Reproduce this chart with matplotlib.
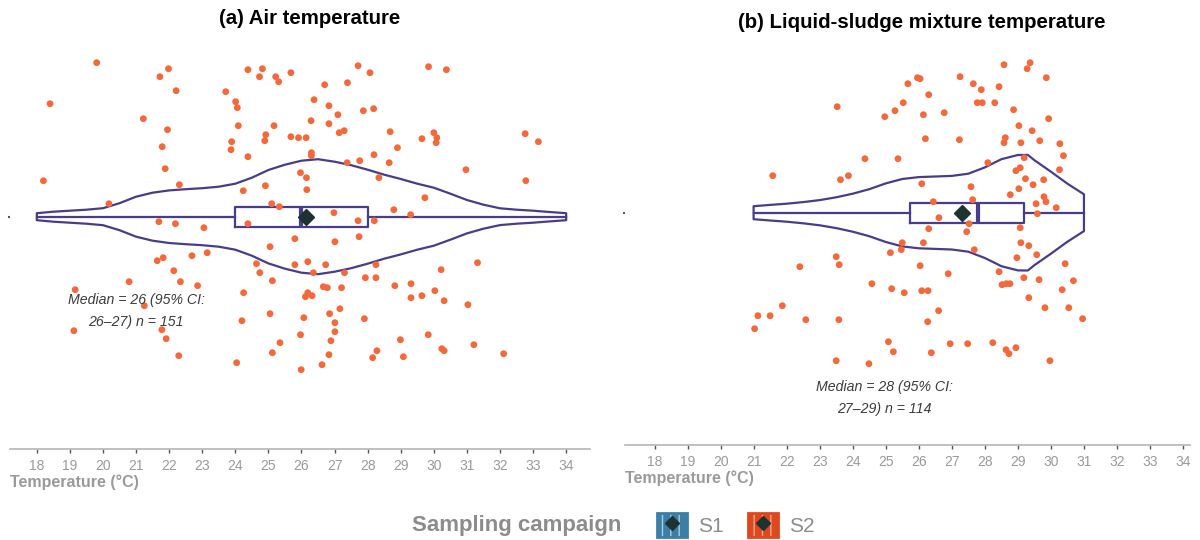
import numpy as np
import matplotlib.pyplot as plt
from matplotlib.patches import Patch
from matplotlib.lines import Line2D
from matplotlib.legend_handler import HandlerTuple

plt.rcParams['font.family'] = ['Liberation Sans', 'DejaVu Sans']

# ---- (a) air temperature: jittered points (temperature, vertical jitter)
air_temp = [19.81, 21.98, 21.72, 22.21, 18.40, 21.22, 21.95, 21.79, 21.88, 18.20,
            22.31, 20.18, 21.69, 22.19, 23.05, 23.15, 22.69, 21.82, 21.64, 22.14,
            20.79, 22.34, 22.86, 19.16, 21.25, 19.12, 21.78, 21.91, 22.29,
            24.38, 24.82, 24.73, 25.22, 25.31, 25.68, 27.71, 28.07, 26.70, 27.39,
            23.71, 24.01, 24.06, 26.38, 26.83, 27.87, 28.18, 27.10, 24.09, 25.17,
            26.29, 26.83, 27.14, 27.29, 28.68, 24.92, 24.89, 25.68, 25.91, 26.14,
            23.89, 23.87, 24.38, 26.30, 26.30, 28.19, 27.38, 27.76, 28.65, 25.97,
            26.15, 28.34, 24.24, 24.91, 26.16, 25.10, 25.33, 26.98, 27.71, 24.38,
            28.20, 25.80, 27.01, 27.74, 25.05, 24.64, 26.19, 25.80, 26.73, 26.36,
            24.74, 27.30, 28.25, 27.93, 28.25, 25.12, 24.25, 26.66, 26.78, 27.21,
            26.19, 26.32, 26.12, 25.05, 24.20, 26.07, 26.85, 27.16, 27.01, 27.90,
            27.01, 25.97, 25.35, 26.89, 25.12, 26.83, 28.28, 28.15, 24.04, 25.99,
            26.62,
            29.84, 30.38, 30.00, 30.09, 30.07, 29.64, 28.90, 32.76, 33.16, 30.97,
            32.78, 29.73, 28.79, 29.30, 31.32, 30.22, 28.82, 29.31, 29.31, 29.64,
            30.03, 30.31, 31.03, 28.99, 29.83, 29.08, 30.24, 30.31, 31.21, 32.11]
air_jit = [1.54, 1.48, 1.40, 1.26, 1.13, 0.98, 0.87, 0.70, 0.48, 0.36,
           0.32, 0.13, -0.05, -0.07, -0.11, -0.36, -0.39, -0.41, -0.44, -0.54,
           -0.65, -0.65, -0.69, -0.73, -0.89, -1.14, -1.13, -1.22, -1.39,
           1.47, 1.48, 1.40, 1.40, 1.35, 1.44, 1.51, 1.44, 1.32, 1.34,
           1.25, 1.15, 1.09, 1.17, 1.11, 1.06, 1.08, 1.02, 0.91, 0.91,
           0.96, 0.93, 0.84, 0.86, 0.85, 0.82, 0.76, 0.80, 0.79, 0.79,
           0.75, 0.67, 0.60, 0.64, 0.61, 0.62, 0.54, 0.56, 0.54, 0.44,
           0.39, 0.39, 0.26, 0.31, 0.27, 0.13, 0.10, 0.04, -0.04, -0.07,
           -0.04, -0.22, -0.25, -0.20, -0.30, -0.47, -0.45, -0.48, -0.48, -0.56,
           -0.56, -0.56, -0.48, -0.61, -0.61, -0.64, -0.76, -0.70, -0.71, -0.71,
           -0.76, -0.79, -0.80, -0.97, -1.04, -1.01, -0.97, -0.92, -1.06, -1.02,
           -1.15, -1.18, -1.26, -1.24, -1.36, -1.38, -1.34, -1.41, -1.46, -1.53,
           -1.48,
           1.50, 1.47, 0.84, 0.79, 0.74, 0.78, 0.69, 0.83, 0.75, 0.47,
           0.36, 0.19, 0.07, 0.02, -0.46, -0.53, -0.69, -0.67, -0.81, -0.79,
           -0.74, -0.84, -0.88, -1.23, -1.18, -1.40, -1.32, -1.34, -1.28, -1.37]

# ---- (b) liquid-sludge mixture temperature
sludge_temp = [25.96, 25.67, 25.53, 25.28, 24.97, 23.53, 24.37, 25.37, 21.58, 23.63,
               23.87, 25.50, 25.47, 25.14, 23.50, 23.59, 22.40, 24.58, 25.18, 25.56,
               21.87, 21.13, 21.50, 21.03, 22.58, 23.58, 25.08, 25.23, 23.50, 24.49,
               28.58, 29.37, 29.28, 29.86, 26.04, 27.25, 27.65, 27.89, 28.43, 26.30,
               27.77, 27.92, 28.30, 26.14, 26.77, 28.87, 29.93, 29.03, 29.43, 26.20,
               27.23, 28.62, 28.58, 29.09, 29.66, 30.27, 30.38, 29.19, 28.09, 29.07,
               28.94, 30.26, 26.09, 27.58, 29.23, 29.46, 29.78, 29.03, 28.77, 29.79,
               29.85, 29.55, 30.16, 29.59, 26.44, 27.63, 26.61, 27.52, 27.45, 26.30,
               29.07, 26.14, 29.09, 29.33, 29.57, 28.97, 27.68, 26.04, 28.43, 26.89,
               30.43, 29.18, 29.64, 30.68, 28.52, 28.65, 28.76, 26.09, 26.28, 30.34,
               29.33, 26.60, 29.82, 30.54, 30.96, 26.27, 26.95, 27.48, 28.24, 28.64,
               28.73, 28.94, 26.38, 29.97]
sludge_jit = [1.35, 1.29, 1.10, 1.02, 0.96, 1.06, 0.54, 0.54, 0.37, 0.33,
              0.37, -0.30, -0.37, -0.40, -0.44, -0.52, -0.54, -0.71, -0.76, -0.80,
              -0.93, -1.03, -1.03, -1.16, -1.07, -1.07, -1.29, -1.39, -1.48, -1.51,
              1.48, 1.50, 1.44, 1.35, 1.34, 1.36, 1.29, 1.23, 1.26, 1.18,
              1.10, 1.10, 1.10, 0.98, 1.00, 1.03, 0.94, 0.87, 0.82, 0.74,
              0.73, 0.75, 0.70, 0.70, 0.72, 0.69, 0.57, 0.55, 0.50, 0.45,
              0.42, 0.43, 0.29, 0.26, 0.34, 0.28, 0.33, 0.24, 0.18, 0.16,
              0.11, 0.09, 0.05, -0.01, 0.11, 0.13, -0.05, -0.11, -0.19, -0.16,
              -0.15, -0.30, -0.30, -0.33, -0.42, -0.45, -0.37, -0.53, -0.59, -0.61,
              -0.51, -0.65, -0.67, -0.68, -0.72, -0.71, -0.71, -0.78, -0.78, -0.77,
              -0.85, -0.98, -0.95, -0.95, -1.06, -1.09, -1.31, -1.31, -1.30, -1.37,
              -1.41, -1.35, -1.40, -1.48]

# ---- violin outlines (temperature, half width)
air_vt = [18, 18.5, 19, 19.5, 20, 20.5, 21, 21.5, 22, 22.5, 23, 23.5, 24, 24.5, 25, 25.5,
          26, 26.5, 27, 27.5, 28, 28.5, 29, 29.5, 30, 30.5, 31, 31.5, 32, 32.5, 33, 33.5, 34]
air_vw = [0.035, 0.05, 0.06, 0.07, 0.085, 0.135, 0.20, 0.24, 0.263, 0.275, 0.285, 0.30,
          0.33, 0.39, 0.467, 0.52, 0.56, 0.575, 0.55, 0.515, 0.47, 0.42, 0.377, 0.33,
          0.29, 0.23, 0.167, 0.12, 0.084, 0.07, 0.06, 0.047, 0.035]
sludge_vt = [21, 21.5, 22, 22.5, 23, 23.5, 24, 24.5, 25, 25.5, 26, 26.5, 27, 27.5, 28,
             28.5, 29, 29.3, 29.5, 30, 30.5, 31]
sludge_vw = [0.065, 0.078, 0.09, 0.106, 0.126, 0.154, 0.19, 0.235, 0.293, 0.337, 0.356,
             0.362, 0.368, 0.39, 0.453, 0.535, 0.577, 0.578, 0.525, 0.41, 0.29, 0.184]

# ---- box summaries (q1, median, q3, whiskers, mean)
air_box = dict(q1=24, med=26, q3=28, whislo=18, whishi=34, mean=26.13)
sludge_box = dict(q1=25.73, med=27.8, q3=29.17, whislo=21, whishi=31, mean=27.3)

titles = ['(a) Air temperature', '(b) Liquid-sludge mixture temperature']
notes = ['Median = 26 (95% CI:\n26\u201327) n = 151', 'Median = 28 (95% CI:\n27\u201329) n = 114']
note_pos = [(21.0, -0.94), (24.95, -1.85)]

line_col = '#483D8B'
pt_col = '#F4683A'
grey = '#9A9A9A'

fig = plt.figure(figsize=(12, 5.4), dpi=100)
ax1 = fig.add_axes([10 / 1200, 91 / 540, 580 / 1200, 409 / 540])
ax2 = fig.add_axes([625 / 1200, 95 / 540, 565 / 1200, 405 / 540])

panels = [(ax1, air_temp, air_jit, air_vt, air_vw, air_box, (17.19, 34.72), (-2.323, 1.767)),
          (ax2, sludge_temp, sludge_jit, sludge_vt, sludge_vw, sludge_box, (17.107, 34.21), (-2.323, 1.727))]

for i, (ax, t, j, vt, vw, box, xl, yl) in enumerate(panels):
    vw = np.array(vw)
    ax.fill_between(vt, -vw, vw, facecolor='none', edgecolor=line_col, lw=1.6, zorder=2)
    ax.bxp([box], positions=[0], widths=0.2, vert=False, showcaps=False, showfliers=False,
           boxprops=dict(color=line_col, lw=1.6), whiskerprops=dict(color=line_col, lw=1.6),
           medianprops=dict(color=line_col, lw=3), manage_ticks=False, zorder=2)
    ax.scatter(t, j, s=24, color=pt_col, edgecolors='none', zorder=3)
    ax.plot([box['mean']], [0], marker='D', ms=8.5, color='#1E3232', ls='', zorder=4)
    ax.text(note_pos[i][0], note_pos[i][1], notes[i], ha='center', va='center',
            fontsize=10.2, style='italic', color='#3C3C3C', linespacing=1.7)

    ax.set_xlim(*xl)
    ax.set_ylim(*yl)
    ax.set_xticks(range(18, 35))
    ax.set_yticks([0])
    ax.set_yticklabels([''])
    for s in ['top', 'right', 'left']:
        ax.spines[s].set_visible(False)
    ax.spines['bottom'].set_color('#B5B5B5')
    ax.spines['bottom'].set_linewidth(1.2)
    ax.tick_params(axis='x', colors='#555555', labelcolor=grey, labelsize=10, length=3, width=1, pad=4)
    ax.tick_params(axis='y', colors='#555555', length=1.5, width=1.5)
    ax.set_xlabel('Temperature (\u00b0C)', loc='left', fontsize=11.5, fontweight='bold', color=grey, labelpad=1)
    ax.patch.set_alpha(0)

fig.text(310 / 1200, 1 - 18 / 540, titles[0], ha='center', va='center', fontsize=14.7, fontweight='bold')
fig.text(922 / 1200, 1 - 22 / 540, titles[1], ha='center', va='center', fontsize=14.7, fontweight='bold')

# legend
fig.text(517 / 1200, 1 - 526 / 540, 'Sampling campaign', ha='center', va='center',
         fontsize=16, fontweight='bold', color='#8C8C8C')
handles = []
for fc, hc in [('#3B7FA7', '#A9CCE0'), ('#DF481D', '#F4A98E')]:
    handles.append((Patch(facecolor=fc, edgecolor=hc, hatch='||', lw=0),
                    Patch(facecolor='none', edgecolor=fc, lw=2),
                    Line2D([], [], marker='D', ms=7, color='#1E3232', ls='')))
leg = fig.legend(handles, ['S1', 'S2'], loc='center left', bbox_to_anchor=(657 / 1200, 1 - 525 / 540),
                 ncol=2, frameon=False, fontsize=15, handlelength=1.45, handleheight=1.35,
                 handletextpad=0.5, columnspacing=1.2, borderpad=0, borderaxespad=0,
                 handler_map={tuple: HandlerTuple(ndivide=1, pad=0)})
for txt in leg.get_texts():
    txt.set_color('#8C8C8C')

fig.savefig('out.png', dpi=100)
